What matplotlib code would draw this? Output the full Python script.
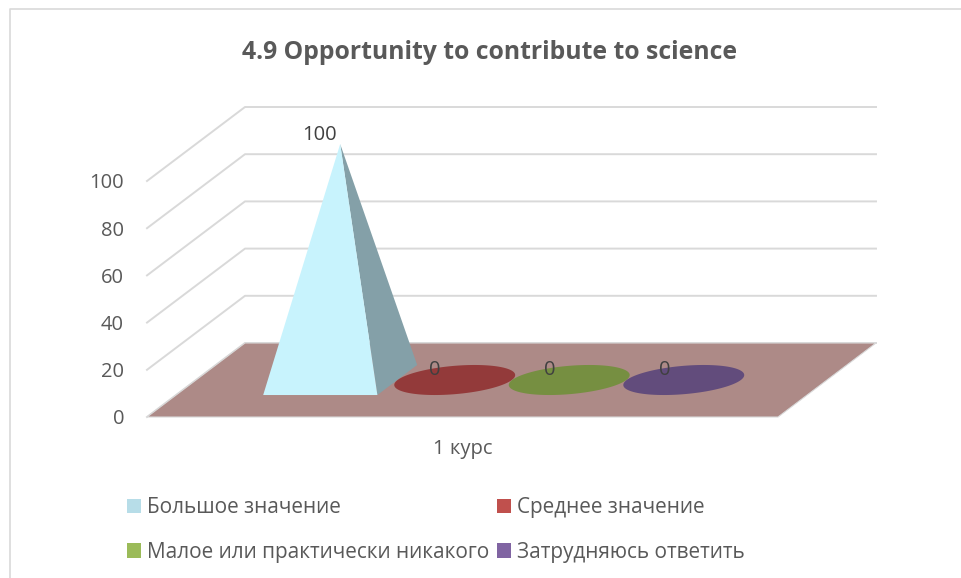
import numpy as np
import matplotlib
matplotlib.use("Agg")
import matplotlib.pyplot as plt
from matplotlib.patches import Polygon, Rectangle
from matplotlib.lines import Line2D

TITLE = "4.9 Opportunity to contribute to science"
categories = ["1 курс"]
series = ["Большое значение", "Среднее значение", "Малое или практически никакого", "Затрудняюсь ответить"]
values = [100, 0, 0, 0]
yticks = [0, 20, 40, 60, 80, 100]

W, H = 962, 578
FONT = "Open Sans"
plt.rcParams["font.family"] = [FONT, "DejaVu Sans"]
legend_colors = ["#b7dde8", "#c0504d", "#9bbb59", "#8064a2"]
flat_colors = ["#c8f3fd", "#933a3a", "#768f41", "#624c7c"]
side_color = "#84a0a8"
floor_color = "#ad8a87"
grid_color = "#d9d9d9"
text_color = "#595959"
label_color = "#404040"

fig = plt.figure(figsize=(W / 100, H / 100), dpi=100)
X0, X1, Y0, Y1 = 147, 778, 417, 181
ax = fig.add_axes([X0 / W, 1 - Y0 / H, (X1 - X0) / W, (Y0 - Y1) / H])
ax.set_xlim(0, 1)
ax.set_ylim(0, 100)
ax.patch.set_visible(False)
for s in ax.spines.values():
    s.set_visible(False)

DX = 98 / (X1 - X0)
DY = 74 * 100 / (Y0 - Y1)


def proj(u, d, v):
    """Oblique projection: position u, depth d, value v to axes data."""
    return u + d * DX, v + d * DY


# walls' grid lines
for t in yticks:
    pts = [proj(0, 0, t), proj(0, 1, t), proj(1, 1, t)]
    ax.add_line(Line2D(*zip(*pts), color=grid_color, lw=1.4, clip_on=False, zorder=1))

# floor
ax.add_patch(Polygon([proj(0, 0, 0), proj(1, 0, 0), proj(1, 1, 0), proj(0, 1, 0)],
                     closed=True, fc=floor_color, ec=grid_color, lw=0.8, clip_on=False, zorder=2))

BAR_HALF_U, BAR_HALF_D = 0.0905, 0.203
CENTER0, STEP = 0.2285, 0.1815
theta = np.linspace(0, 2 * np.pi, 120)
for i, val in enumerate(values):
    cu = CENTER0 + i * STEP
    if val > 0:
        fl = proj(cu - BAR_HALF_U, 0.5 - BAR_HALF_D, 0)
        fr = proj(cu + BAR_HALF_U, 0.5 - BAR_HALF_D, 0)
        br = proj(cu + BAR_HALF_U, 0.5 + BAR_HALF_D, 0)
        apex = proj(cu, 0.5, val)
        ax.add_patch(Polygon([fr, br, apex], closed=True, fc=side_color, ec="none", clip_on=False, zorder=3))
        ax.add_patch(Polygon([fl, fr, apex], closed=True, fc=flat_colors[i], ec="none", clip_on=False, zorder=4))
        lx, ly = apex
        ax.annotate(str(val), (lx, ly), xytext=(-21, 9.5), textcoords="offset pixels", ha="center", va="center",
                    fontsize=14.5, color=label_color, annotation_clip=False, zorder=6)
    else:
        us = cu + BAR_HALF_U * np.cos(theta)
        ds = 0.5 + BAR_HALF_D * np.sin(theta)
        ax.add_patch(Polygon(np.column_stack(proj(us, ds, val)), closed=True, fc=flat_colors[i], ec="none",
                             clip_on=False, zorder=3))
        lx, ly = proj(cu, 0.5, val)
        ax.annotate(str(val), (lx, ly), xytext=(-19.5, 10), textcoords="offset pixels", ha="center", va="center",
                    fontsize=14.5, color=label_color, annotation_clip=False, zorder=6)

ax.set_yticks(yticks)
ax.set_xticks([0.5])
ax.set_xticklabels(categories)
ax.tick_params(axis="both", length=0, labelsize=14.5, labelcolor=text_color)
ax.tick_params(axis="y", pad=16.5)
ax.tick_params(axis="x", pad=16)

fig.text(489.5 / W, 1 - 52.5 / H, TITLE, ha="center", va="center", fontsize=17.8, fontweight="bold", color=text_color)

handles = [Rectangle((0, 0), 1, 1, fc=c, ec="none") for c in legend_colors]
# column-wise order in matplotlib: 1st, 3rd, 2nd, 4th series
order = [0, 2, 1, 3]
leg = fig.legend([handles[i] for i in order], [series[i] for i in order], ncol=2, frameon=False,
                 loc="upper left", bbox_to_anchor=(127 / W, 1 - 497 / H), bbox_transform=fig.transFigure,
                 fontsize=14.95, handlelength=0.68, handleheight=0.68, handletextpad=0.3, columnspacing=0.36,
                 labelspacing=1.15, borderpad=0, borderaxespad=0, labelcolor=text_color)

# chart frame
fig.add_artist(Line2D([9.5 / W, 9.5 / W, 1], [0, 1 - 8.5 / H, 1 - 8.5 / H], color=grid_color, lw=1.2))

fig.savefig("out.png", dpi=100, facecolor="white")
